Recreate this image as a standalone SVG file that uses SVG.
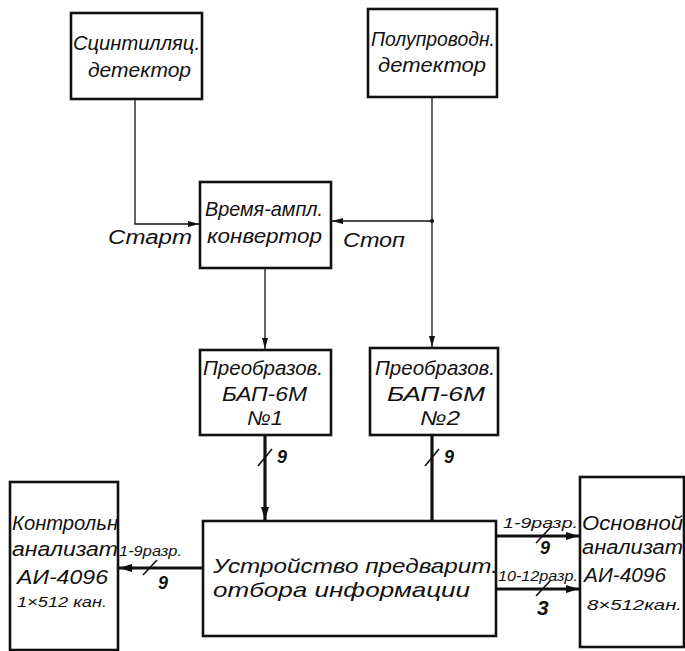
<svg xmlns="http://www.w3.org/2000/svg" width="685" height="651" viewBox="0 0 685 651">
<style>
.box{fill:#fff;stroke:#111;stroke-width:2.6}
.t{font-family:"Liberation Sans",Arial,sans-serif;font-style:italic;font-size:20px;fill:#111}
.s{font-size:15px}
.n{font-size:18px;font-weight:bold}
.u{font-size:21px}
.thin{stroke:#111;stroke-width:1.3;fill:none}
.thick{stroke:#111;stroke-width:3.2;fill:none}
.tick{stroke:#111;stroke-width:1.6;fill:none}
</style>
<defs>
<marker id="a" markerUnits="userSpaceOnUse" markerWidth="12" markerHeight="8" refX="11" refY="4" orient="auto">
<path d="M0,1 L11,4 L0,7 z" fill="#111"/>
</marker>
<marker id="ab" markerUnits="userSpaceOnUse" markerWidth="14" markerHeight="10" refX="13" refY="5" orient="auto">
<path d="M0,1 L13,5 L0,9 z" fill="#111"/>
</marker>
</defs>
<rect width="685" height="651" fill="#fff"/>

<g id="connectors">
<path class="thin" d="M135,99 V224 H199" marker-end="url(#a)"/>
<path class="thin" d="M432,97 V347" marker-end="url(#a)"/>
<path class="thin" d="M432,221 H332" marker-end="url(#a)"/>
<circle cx="432" cy="221" r="2" fill="#111"/>
<path class="thin" d="M265,268 V349" marker-end="url(#a)"/>
<path class="thick" d="M265,435 V520" marker-end="url(#ab)"/>
<path class="thick" d="M432,435 V536 H579" marker-end="url(#ab)"/>
<path class="thick" d="M497,589 H579" marker-end="url(#ab)"/>
<path class="thick" d="M203,568 H119" marker-end="url(#ab)"/>
<path class="tick" d="M258,466 L272,449"/>
<path class="tick" d="M425,466 L439,449"/>
<path class="tick" d="M143,575 L157,560"/>
<path class="tick" d="M536,543 L550,528"/>
<path class="tick" d="M536,596 L550,581"/>
<text class="t n" x="277" y="463">9</text>
<text class="t n" x="444" y="463">9</text>
<text class="t" x="108" y="244" textLength="84" lengthAdjust="spacingAndGlyphs">Старт</text>
<text class="t" x="343" y="247" textLength="62" lengthAdjust="spacingAndGlyphs">Стоп</text>
<text class="t s" x="119" y="556" textLength="63" lengthAdjust="spacingAndGlyphs">1-9разр.</text>
<text class="t n" x="158" y="589">9</text>
<text class="t s" x="503" y="528" textLength="75" lengthAdjust="spacingAndGlyphs">1-9разр.</text>
<text class="t n" x="540" y="554">9</text>
<text class="t s" x="498" y="581" textLength="80" lengthAdjust="spacingAndGlyphs">10-12разр.</text>
<text class="t n" x="537" y="615" style="font-size:21px">3</text>
</g>

<g id="scint">
<rect class="box" x="71" y="13" width="131" height="86"/>
<text class="t" x="73" y="50" textLength="127" lengthAdjust="spacingAndGlyphs">Сцинтилляц.</text>
<text class="t" x="88" y="77" textLength="103" lengthAdjust="spacingAndGlyphs">детектор</text>
</g>

<g id="semi">
<rect class="box" x="368" y="9" width="129" height="88"/>
<text class="t" x="371" y="46" textLength="124" lengthAdjust="spacingAndGlyphs">Полупроводн.</text>
<text class="t" x="378" y="72" textLength="108" lengthAdjust="spacingAndGlyphs">детектор</text>
</g>

<g id="tac">
<rect class="box" x="200" y="182" width="131" height="86"/>
<text class="t" x="205" y="216" textLength="118" lengthAdjust="spacingAndGlyphs">Время-ампл.</text>
<text class="t" x="207" y="243" textLength="115" lengthAdjust="spacingAndGlyphs">конвертор</text>
</g>

<g id="conv1">
<rect class="box" x="200" y="350" width="131" height="85"/>
<text class="t" x="203" y="375" textLength="120" lengthAdjust="spacingAndGlyphs">Преобразов.</text>
<text class="t" x="222" y="401" textLength="85" lengthAdjust="spacingAndGlyphs">БАП-6М</text>
<text class="t" x="247" y="425" textLength="36" lengthAdjust="spacingAndGlyphs">№1</text>
</g>

<g id="conv2">
<rect class="box" x="370" y="348" width="128" height="87"/>
<text class="t" x="375" y="375" textLength="120" lengthAdjust="spacingAndGlyphs">Преобразов.</text>
<text class="t" x="387" y="401" textLength="98" lengthAdjust="spacingAndGlyphs">БАП-6М</text>
<text class="t" x="420" y="425" textLength="40" lengthAdjust="spacingAndGlyphs">№2</text>
</g>

<g id="control">
<rect class="box" x="10" y="482" width="108" height="168"/>
<text class="t" x="12" y="530" textLength="106" lengthAdjust="spacingAndGlyphs">Контрольн</text>
<text class="t" x="12" y="556" textLength="106" lengthAdjust="spacingAndGlyphs">анализат</text>
<text class="t" x="17" y="584" textLength="91" lengthAdjust="spacingAndGlyphs">АИ-4096</text>
<text class="t s" x="17" y="607" textLength="90" lengthAdjust="spacingAndGlyphs">1×512 кан.</text>
</g>

<g id="device">
<rect class="box" x="203" y="521" width="293" height="115"/>
<text class="t u" x="213" y="573" textLength="285" lengthAdjust="spacingAndGlyphs">Устройство предварит.</text>
<text class="t u" x="213" y="597" textLength="257" lengthAdjust="spacingAndGlyphs">отбора информации</text>
</g>

<g id="main">
<rect class="box" x="580" y="477" width="104" height="170"/>
<text class="t" x="582" y="530" textLength="101" lengthAdjust="spacingAndGlyphs">Основной</text>
<text class="t" x="582" y="554" textLength="101" lengthAdjust="spacingAndGlyphs">анализат</text>
<text class="t" x="584" y="582" textLength="82" lengthAdjust="spacingAndGlyphs">АИ-4096</text>
<text class="t s" x="587" y="610" textLength="95" lengthAdjust="spacingAndGlyphs">8×512кан.</text>
</g>
</svg>
